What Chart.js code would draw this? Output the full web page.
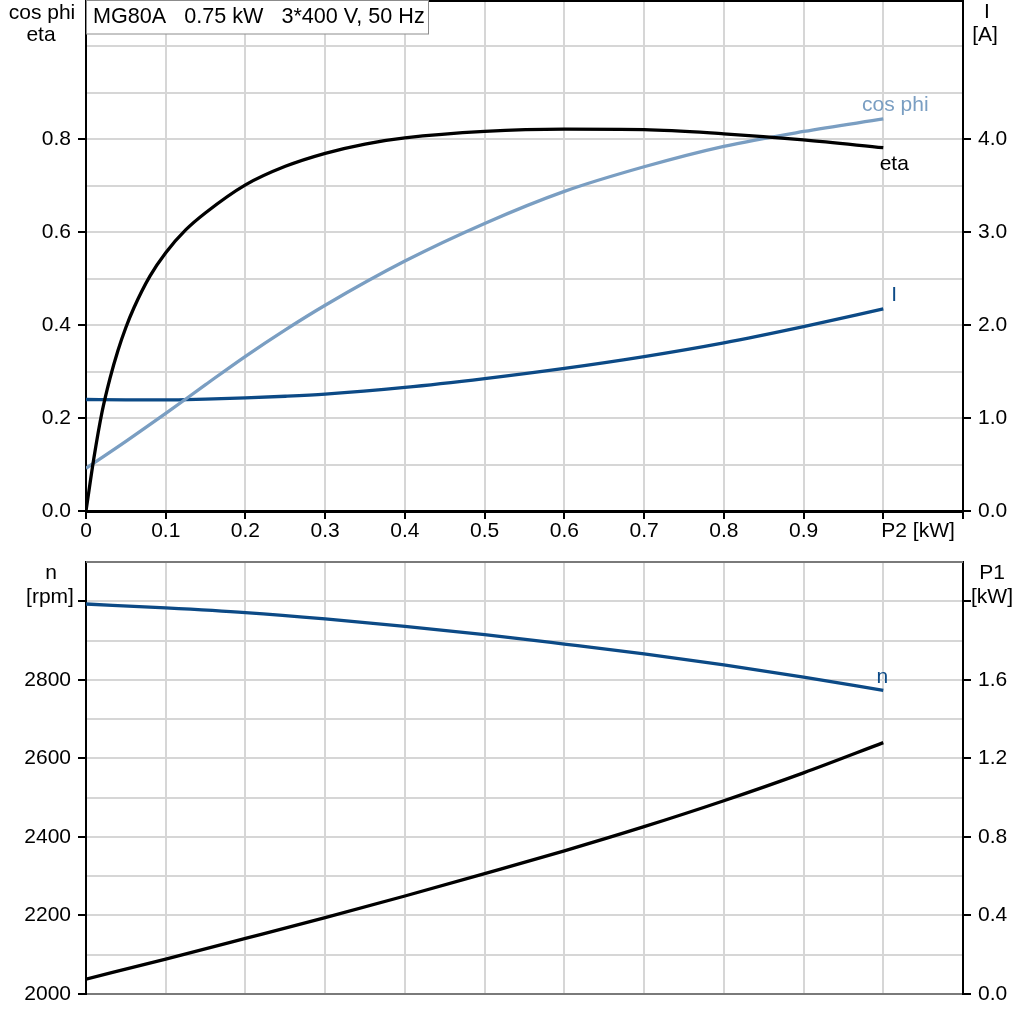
<!DOCTYPE html>
<html>
<head>
<meta charset="utf-8">
<script src="https://cdn.jsdelivr.net/npm/chart.js@4.4.1/dist/chart.umd.min.js"></script>
<style>
  html, body { margin: 0; padding: 0; background: #fff; }
  #wrap { position: relative; width: 1024px; height: 1024px; overflow: hidden; }
  canvas { position: absolute; left: 0; }
  #topChart { top: 0; }
  #bottomChart { top: 540px; }
</style>
</head>
<body>
<div id="wrap">
  <canvas id="topChart" width="1024" height="550"></canvas>
  <canvas id="bottomChart" width="1024" height="484"></canvas>
</div>
<script>
const FONT = '"Liberation Sans", Arial, sans-serif';
const DARK_BLUE = '#0c4a86';
const LIGHT_BLUE = '#7a9ec2';
const GRID = '#d6d6d6';
const NONE = 'rgba(0,0,0,0)';

const title = 'MG80A   0.75 kW   3*400 V, 50 Hz';

// P2 [kW] values
const p2Eta = [0, 0.01, 0.02, 0.03, 0.04, 0.05, 0.06, 0.08, 0.10, 0.125, 0.15, 0.20, 0.25, 0.30, 0.35, 0.40, 0.50, 0.60, 0.70, 0.80, 0.90, 1.00];
const eta = [0, 0.115, 0.212, 0.285, 0.345, 0.395, 0.437, 0.505, 0.556, 0.605, 0.642, 0.702, 0.742, 0.770, 0.790, 0.803, 0.817, 0.822, 0.821, 0.812, 0.799, 0.782];

const p2 = [0, 0.05, 0.1, 0.15, 0.2, 0.25, 0.3, 0.4, 0.5, 0.6, 0.7, 0.8, 0.9, 1.0];
const cosPhi = [0.092, 0.150, 0.210, 0.272, 0.333, 0.390, 0.443, 0.538, 0.619, 0.688, 0.741, 0.785, 0.817, 0.844];
const current = [1.20, 1.197, 1.196, 1.205, 1.218, 1.235, 1.258, 1.33, 1.425, 1.535, 1.662, 1.81, 1.985, 2.175];

const p2Low = [0, 0.1, 0.2, 0.3, 0.4, 0.5, 0.6, 0.7, 0.8, 0.9, 1.0];
const speed = [2993, 2983, 2971, 2955, 2936, 2915, 2891, 2866, 2838, 2807, 2773];
const p1 = [0.076, 0.178, 0.283, 0.389, 0.499, 0.613, 0.729, 0.852, 0.984, 1.126, 1.28];

// tick labels
const xLabels = [0, 0.1, 0.2, 0.3, 0.4, 0.5, 0.6, 0.7, 0.8, 0.9];
const etaLabels = [0, 0.2, 0.4, 0.6, 0.8];
const currentLabels = [0, 1, 2, 3, 4];
const speedLabels = [2000, 2200, 2400, 2600, 2800];
const speedMarks = [2000, 2200, 2400, 2600, 2800, 3000];
const p1Labels = [0, 0.4, 0.8, 1.2, 1.6];
const p1Marks = [0, 0.4, 0.8, 1.2, 1.6, 2.0];

Chart.defaults.font.family = FONT;
Chart.defaults.font.size = 21;
Chart.defaults.color = '#000';

function pts(xs, ys) {
  return xs.map((x, i) => ({ x: x, y: ys[i] }));
}

function has(list, v) {
  return list.some(t => Math.abs(t - v) < 1e-6);
}

function line(data, color, axis) {
  return {
    data: data,
    borderColor: color,
    borderWidth: 3.3,
    pointRadius: 0,
    fill: false,
    cubicInterpolationMode: 'monotone',
    yAxisID: axis
  };
}

function yAxis(o) {
  return {
    type: 'linear',
    position: o.position,
    min: o.min,
    max: o.max,
    afterFit: s => { s.width = o.width; s.paddingTop = 0; s.paddingBottom = 0; },
    border: { color: '#000', width: 2 },
    grid: {
      drawOnChartArea: o.gridOn,
      color: ctx => (ctx.tick && (has([o.min, o.max], ctx.tick.value))) ? NONE : GRID,
      lineWidth: 2,
      tickLength: 8,
      tickWidth: 2,
      tickColor: ctx => (ctx.tick && has(o.marks, ctx.tick.value)) ? '#000' : NONE
    },
    ticks: {
      stepSize: o.step,
      padding: 7,
      autoSkip: false,
      callback: v => has(o.labels, v) ? v.toFixed(o.digits) : ''
    }
  };
}

function xAxis(o) {
  return {
    type: 'linear',
    position: 'bottom',
    min: 0,
    max: 1.1,
    afterFit: s => { s.height = o.height; s.paddingLeft = 0; s.paddingRight = 0; },
    border: { color: o.borderColor, width: o.borderWidth },
    grid: {
      color: ctx => (ctx.tick && has([0, 1.1], ctx.tick.value)) ? NONE : GRID,
      lineWidth: 2,
      drawTicks: o.ticks,
      tickLength: 8,
      tickWidth: 2,
      tickColor: '#000'
    },
    ticks: {
      display: o.ticks,
      stepSize: 0.1,
      autoSkip: false,
      maxRotation: 0,
      padding: 0,
      callback: v => has(xLabels, v) ? (v === 0 ? '0' : v.toFixed(1)) : ''
    }
  };
}

function drawText(c, text, x, y, color, align) {
  c.fillStyle = color;
  c.textAlign = align || 'center';
  c.textBaseline = 'middle';
  c.fillText(text, x, y);
}

function lastPoint(chart, i) {
  const d = chart.getDatasetMeta(i).data;
  return d[d.length - 1];
}

const topDecor = {
  id: 'topDecor',
  afterDraw(chart) {
    const c = chart.ctx;
    const a = chart.chartArea;
    c.save();
    // top frame
    c.strokeStyle = '#000';
    c.lineWidth = 2;
    c.beginPath();
    c.moveTo(a.left, a.top + 1);
    c.lineTo(a.right, a.top + 1);
    c.stroke();
    // title box
    c.fillStyle = '#fff';
    c.fillRect(a.left, a.top, 342, 34);
    c.strokeStyle = '#8c8c8c';
    c.lineWidth = 1;
    c.strokeRect(a.left + 0.5, a.top + 0.5, 342, 33.5);
    c.font = '21.6px ' + FONT;
    drawText(c, title, a.left + 7, 17, '#000', 'left');
    c.font = '21px ' + FONT;
    // axis captions
    drawText(c, 'cos phi', 42, 13, '#000');
    drawText(c, 'eta', 41, 35, '#000');
    drawText(c, 'I', 987, 12, '#000');
    drawText(c, '[A]', 985, 35, '#000');
    const xs = chart.scales.x;
    drawText(c, 'P2 [kW]', xs.getPixelForValue(1.0) - 2, 531, '#000', 'left');
    // curve names
    let p = lastPoint(chart, 1);
    drawText(c, 'cos phi', p.x + 12, p.y - 14, LIGHT_BLUE);
    p = lastPoint(chart, 0);
    drawText(c, 'eta', p.x + 11, p.y + 16, '#000');
    p = lastPoint(chart, 2);
    drawText(c, 'I', p.x + 11, p.y - 14, DARK_BLUE);
    c.restore();
  }
};

const bottomDecor = {
  id: 'bottomDecor',
  afterDraw(chart) {
    const c = chart.ctx;
    const a = chart.chartArea;
    c.save();
    c.font = '21px ' + FONT;
    c.strokeStyle = '#7a7a7a';
    c.lineWidth = 2;
    c.beginPath();
    c.moveTo(a.left, a.top);
    c.lineTo(a.right, a.top);
    c.stroke();
    drawText(c, 'n', 51, 33, '#000');
    drawText(c, '[rpm]', 50, 57, '#000');
    drawText(c, 'P1', 992, 33, '#000');
    drawText(c, '[kW]', 992, 57, '#000');
    const p = lastPoint(chart, 0);
    drawText(c, 'n', p.x - 1, p.y - 13, DARK_BLUE);
    c.restore();
  }
};

new Chart(document.getElementById('topChart'), {
  type: 'line',
  data: {
    datasets: [
      line(pts(p2Eta, eta), '#000', 'y'),
      line(pts(p2, cosPhi), LIGHT_BLUE, 'y'),
      line(pts(p2, current), DARK_BLUE, 'yI')
    ]
  },
  options: {
    responsive: false,
    animation: false,
    devicePixelRatio: 1,
    layout: { padding: 0 },
    plugins: { legend: { display: false }, tooltip: { enabled: false } },
    scales: {
      x: xAxis({ height: 39, borderColor: '#000', borderWidth: 3, ticks: true }),
      y: yAxis({ position: 'left', min: 0, max: 1.1, step: 0.1, width: 86, gridOn: true,
                 labels: etaLabels, marks: etaLabels, digits: 1 }),
      yI: yAxis({ position: 'right', min: 0, max: 5.5, step: 0.5, width: 61, gridOn: false,
                  labels: currentLabels, marks: currentLabels, digits: 1 })
    }
  },
  plugins: [topDecor]
});

new Chart(document.getElementById('bottomChart'), {
  type: 'line',
  data: {
    datasets: [
      line(pts(p2Low, speed), DARK_BLUE, 'y'),
      line(pts(p2Low, p1), '#000', 'yP')
    ]
  },
  options: {
    responsive: false,
    animation: false,
    devicePixelRatio: 1,
    layout: { padding: { top: 22 } },
    plugins: { legend: { display: false }, tooltip: { enabled: false } },
    scales: {
      x: xAxis({ height: 30, borderColor: '#7a7a7a', borderWidth: 2, ticks: false }),
      y: yAxis({ position: 'left', min: 2000, max: 3100, step: 100, width: 86, gridOn: true,
                 labels: speedLabels, marks: speedMarks, digits: 0 }),
      yP: yAxis({ position: 'right', min: 0, max: 2.2, step: 0.2, width: 61, gridOn: false,
                  labels: p1Labels, marks: p1Marks, digits: 1 })
    }
  },
  plugins: [bottomDecor]
});
</script>
</body>
</html>
